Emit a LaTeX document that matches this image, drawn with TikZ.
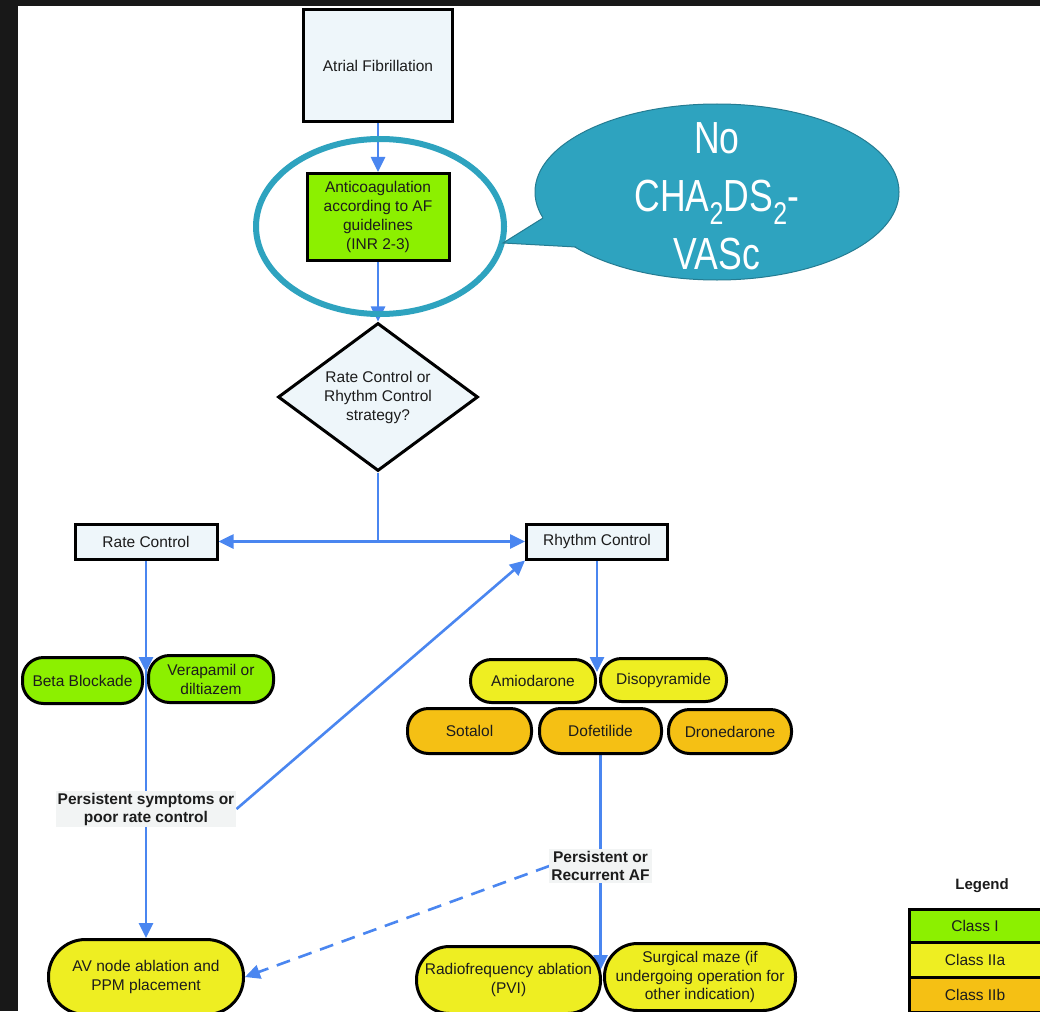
\documentclass[tikz,border=0pt]{standalone}
\usepackage{fontspec}
\setmainfont{Liberation Sans}
\newfontfamily\narrowfont[FakeStretch=0.79]{Liberation Sans}
\usetikzlibrary{arrows.meta,shapes.geometric,backgrounds}

\definecolor{framedark}{HTML}{181818}
\definecolor{boxpale}{HTML}{EEF6FA}
\definecolor{classone}{HTML}{8CF000}
\definecolor{classtwoa}{HTML}{EEEE22}
\definecolor{classtwob}{HTML}{F5C014}
\definecolor{flowblue}{HTML}{4A86F0}
\definecolor{noteteal}{HTML}{2EA3BF}
\definecolor{noteedge}{HTML}{257C92}
\definecolor{labelgrey}{HTML}{F2F4F4}
\definecolor{inktext}{HTML}{1C1C1C}

\begin{document}
\begin{tikzpicture}[x=1pt, y=-1pt,
    every node/.style={font=\fontsize{15.5}{19}\selectfont, text=inktext, align=center},
    box/.style={rectangle, draw=black, line width=3pt, fill=boxpale, inner sep=2pt},
    pill/.style={rectangle, rounded corners=#1, draw=black, line width=3pt, inner sep=1pt},
    pill/.default=21pt,
    choice/.style={diamond, draw=black, line width=3pt, fill=boxpale, inner sep=0pt, shape aspect=1.34},
    cond/.style={fill=labelgrey, font=\bfseries\fontsize{15.5}{18}\selectfont, inner sep=2pt},
    flow/.style={draw=flowblue, line width=2.6pt, -{Triangle[length=15pt,width=14pt]}},
    link/.style={draw=flowblue, line width=2.6pt},
    cell/.style={rectangle, draw=black, line width=3pt, minimum width=132, inner sep=0pt}]
    \useasboundingbox (0,0) rectangle (1040,1011);
    \clip (0,0) rectangle (1040,1011);

    % Top of the chart
    \node[box, minimum width=149, minimum height=112] (af) at (378,65.5) {Atrial Fibrillation};
    \node[box, fill=classone, minimum width=142, minimum height=87] (anticoag) at (378,217)
        {Anticoagulation\\according to AF\\guidelines\\(INR 2-3)};
    \node[choice, minimum width=200, minimum height=148] (strategy) at (378,397)
        {Rate Control or\\Rhythm Control\\strategy?};
    \node[box, minimum width=142, minimum height=35] (ratectl) at (146,541.5) {Rate Control};
    \node[box, minimum width=141, minimum height=35] (rhythmctl) at (597,541.5) {Rhythm Control};
    \coordinate (split) at (378,541.5);
    \coordinate (ratejoin) at (146,672);
    \coordinate (rhythmjoin) at (597,672);
    \coordinate (procjoin) at (600.5,970);

    % Drugs
    \node[pill, fill=classone, minimum width=120, minimum height=46] (beta) at (82.5,680.5) {Beta Blockade};
    \node[pill, fill=classone, minimum width=125, minimum height=47] (verap) at (211,679) {Verapamil or\\diltiazem};
    \node[pill, fill=classtwoa, minimum width=125, minimum height=43] (amio) at (533,681) {Amiodarone};
    \node[pill, fill=classtwoa, minimum width=126, minimum height=43] (diso) at (663.5,680) {Disopyramide};
    \node[pill, fill=classtwob, minimum width=124, minimum height=45] (sotalol) at (469.5,731) {Sotalol};
    \node[pill, fill=classtwob, minimum width=122, minimum height=45] (dofet) at (600.5,731) {Dofetilide};
    \node[pill, fill=classtwob, minimum width=123, minimum height=44] (drone) at (730,731.5) {Dronedarone};

    % Conditions
    \node[cond] (persist) at (146,809) {Persistent symptoms or\\poor rate control};
    \node[cond] (recur) at (600.5,866) {Persistent or\\Recurrent AF};

    % Procedures
    \node[pill=37pt, fill=classtwoa, minimum width=195, minimum height=75] (avnode) at (146,977)
        {AV node ablation and\\PPM placement};
    \node[pill=33pt, fill=classtwoa, minimum width=184, minimum height=67] (rfa) at (508.5,980)
        {Radiofrequency ablation\\(PVI)};
    \node[pill=33pt, fill=classtwoa, minimum width=191, minimum height=67, font=\fontsize{15.5}{18.5}\selectfont] (maze) at (700,977)
        {Surgical maze (if\\undergoing operation for\\other indication)};

    % Legend
    \node[font=\bfseries\fontsize{15}{18}\selectfont] (legend) at (982,886) {Legend};
    \node[cell, fill=classone, minimum height=33] (legendI) at (975,925.5) {Class I};
    \node[cell, fill=classtwoa, minimum height=35] (legendIIa) at (975,959.5) {Class IIa};
    \node[cell, fill=classtwob, minimum height=35] (legendIIb) at (975,994.5) {Class IIb};

    \begin{scope}[on background layer]
    \fill[framedark] (0,0) rectangle (1040,1011);
    \fill[white] (18,6) rectangle (1040,1011);
    \draw[flow] (af) -- (anticoag);
    \draw[flow] (anticoag) -- (strategy);
    \draw[link] (strategy.south) -- (split);
    \draw[flow] (split) -- (ratectl);
    \draw[flow] (split) -- (rhythmctl);
    \draw[flow] (ratectl) -- (ratejoin);
    \draw[link] (ratectl) -- (persist);
    \draw[flow] (persist) -- (avnode);
    \draw[flow] (persist.east) -- (rhythmctl.south west);
    \draw[flow] (rhythmctl) -- (rhythmjoin);
    \draw[link] (dofet) -- (recur);
    \draw[flow] (recur) -- (procjoin);
    \draw[flow, dash pattern=on 14pt off 9pt] (recur.west) -- (avnode.east);
    \end{scope}

    % Highlight and note
    \node[ellipse, draw=noteteal, line width=6pt, minimum width=248, minimum height=175, inner sep=0pt] (ring) at (380,226.5) {};
    \node[ellipse, fill=noteteal, draw=noteedge, line width=1pt, minimum width=364, minimum height=176, inner sep=0pt] (note) at (717,192) {};
    \fill[noteteal] (543,218) -- (503,243) -- (576,247) -- (600,215) -- (550,200) -- cycle;
    \draw[noteedge, line width=1pt] (543,218) -- (503,243) -- (576,247);
    \node[text=white, font=\narrowfont\fontsize{45}{58}\selectfont] (notetext) at (717,196)
        {No\\CHA\textsubscript{2}DS\textsubscript{2}-\\VASc};

\end{tikzpicture}
\end{document}
